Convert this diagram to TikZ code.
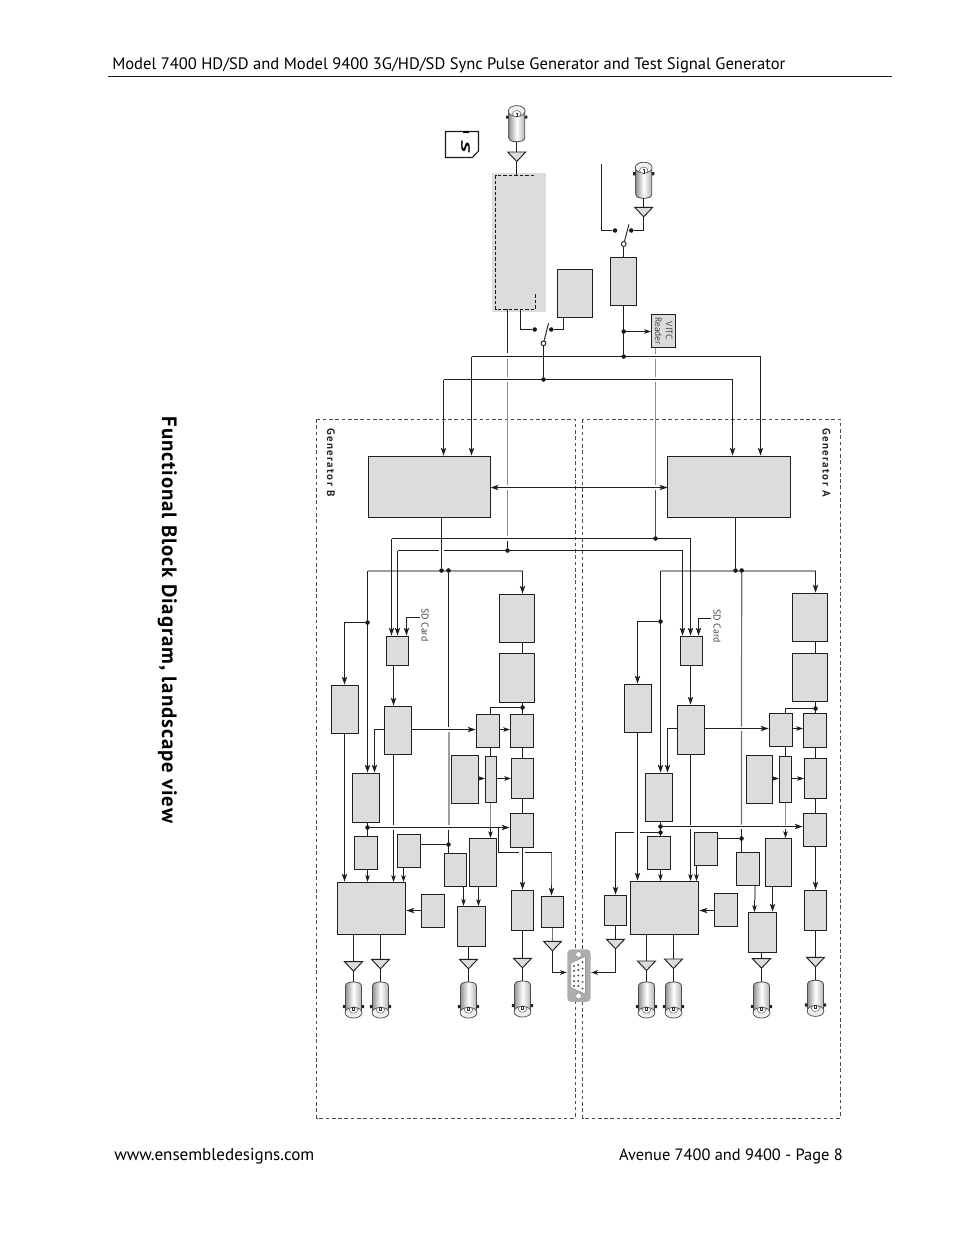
\documentclass[tikz,border=0pt]{standalone}
\usepackage{fontspec}
\setmainfont{PT Sans}
\usetikzlibrary{arrows.meta,calc}
\pgfdeclarelayer{fg}
\pgfsetlayers{main,fg}
\definecolor{blkfill}{HTML}{DCDCDC}
\definecolor{gwire}{HTML}{9E9E9E}
\definecolor{gwdark}{HTML}{8C8C8C}
\tikzset{
 wire/.style={draw=black!88,line width=.8pt},
 arr/.style={wire,-{Stealth[length=6pt,width=4pt,inset=1.5pt]},shorten >=.6pt},
 arrs/.style={wire,-{Stealth[length=5pt,width=3.4pt,inset=1.2pt]},shorten >=.4pt},
 dbl/.style={wire,{Stealth[length=6pt,width=4pt,inset=1.5pt]}-{Stealth[length=6pt,width=4pt,inset=1.5pt]}},
 gw/.style={draw=gwdark,line width=.9pt},
 gbus/.style={draw=gwire,line width=1.5pt},
 blk/.style={draw=black!88,fill=blkfill,line width=.8pt,inner sep=0pt,outer sep=0pt,anchor=north west},
 jdot/.style={circle,fill=black!90,inner sep=0pt,minimum size=3.4pt},
 odot/.style={circle,draw=black!88,fill=white,line width=.7pt,inner sep=0pt,minimum size=3.6pt},
 gbox/.style={draw=black!70,line width=.6pt,dash pattern=on 2.7pt off 2pt},
 small/.style={text=black!72,font=\fontsize{7.4}{8}\selectfont,inner sep=0pt,rotate=-90},
 genlab/.style={text=black!85,font=\fontsize{8.2}{9}\selectfont\bfseries\addfontfeature{LetterSpace=13},inner sep=0pt,rotate=-90,anchor=base west},
}
\newcommand{\blk}[5]{%
 \pgfmathsetmacro\blkw{(#4-#2)*0.75}\pgfmathsetmacro\blkh{(#5-#3)*0.75}%
 \node[blk,minimum width=\blkw pt,minimum height=\blkh pt] (#1) at (#2,#3) {};}
\newcommand{\jd}[3]{\begin{pgfonlayer}{fg}\node[jdot] (#1) at (#2,#3) {};\end{pgfonlayer}}
\newcommand{\amp}[3]{%
 \coordinate (#1-t) at (#2,#3);\coordinate (#1-b) at (#2,#3+9.5);
 \draw[draw=black!88,line width=.7pt,fill=blkfill] ($(#1-t)+(-9,0)$) -- ($(#1-t)+(9,0)$) -- (#1-b) -- cycle;}
\newcommand{\bncbody}{%
 \draw[draw=black!70,line width=.6pt,left color=black!42,right color=black!30,middle color=white]
   (-8,4) .. controls (-8,1) and (-4,0) .. (0,0) .. controls (4,0) and (8,1) .. (8,4) -- (8,30) -- (-8,30) -- cycle;
 \fill[black!85] (-10.6,23) rectangle (-8,26.2) (8,23) rectangle (10.6,26.2);
 \draw[draw=black!70,line width=.55pt,fill=black!6] (0,30.7) ellipse [x radius=8.4,y radius=5.4];
 \draw[draw=black!60,line width=.4pt,fill=white] (0,28) ellipse [x radius=4.2,y radius=3.2];
 \fill[black!80] (-1.1,24.5) rectangle (1.1,29);
 \fill[white] (-.4,25.5) rectangle (.4,28);}
\newcommand{\bncd}[3]{\coordinate (#1) at (#2,#3);\begin{scope}[shift={(#2,#3)}]\bncbody\end{scope}}
\newcommand{\bncu}[3]{\coordinate (#1) at (#2,#3);\begin{scope}[shift={(#2,#3)},yscale=-1]\bncbody\end{scope}}
\begin{document}
\begin{tikzpicture}[x=.75pt,y=-.75pt]
\useasboundingbox (0,0) rectangle (954,1235);
% page furniture
\node[anchor=base west,inner sep=0pt,font=\fontsize{12.42}{14}\selectfont] (title) at (112,69.5) {Model 7400 HD/SD and Model 9400 3G/HD/SD Sync Pulse Generator and Test Signal Generator};
\coordinate (ruleL) at (108,76.5);\coordinate (ruleR) at (892,76.5);
\draw[line width=.75pt,black!90] (ruleL) -- (ruleR);
\node[anchor=base west,inner sep=0pt,font=\fontsize{12.8}{14}\selectfont] (foot1) at (114,1160.5) {www.ensembledesigns.com};
\node[anchor=base east,inner sep=0pt,font=\fontsize{12.3}{14}\selectfont] (foot2) at (843,1160.5) {Avenue 7400 and 9400 - Page 8};
\node[anchor=base west,rotate=-90,inner sep=0pt,font=\fontsize{15.6}{16}\selectfont\bfseries\addfontfeature{LetterSpace=4.5}] (head) at (162,416.5) {Functional Block Diagram, landscape view};
% generator boxes
\draw[gbox] (316.5,419) rectangle (575,1118);
\draw[gbox] (582.5,419) rectangle (840,1118);
\node[genlab] (genB) at (327,428) {Generator B};
\node[genlab] (genA) at (822.5,428) {Generator A};
% SD card icon
\draw[draw=black!90,line width=.8pt,fill=white] (445.5,131.5) -- (478.5,131.5) -- (478.5,151) -- (472.3,157.5) -- (445.5,157.5) -- cycle;
\fill[black] (463.3,131.3) rectangle (468.7,133);
\node[rotate=-90,inner sep=0pt,font=\fontsize{9}{10}\selectfont\bfseries\itshape] (sdlogo) at (465.5,146.5) {\scalebox{1.9}[1]{S}};
% input section
\node[fill=blkfill,inner sep=0pt,outer sep=0pt,minimum width=40.5pt,minimum height=104.25pt,anchor=north west] (Tp) at (492,173) {};
\draw[black!90,line width=.7pt,dash pattern=on 2.6pt off 1.5pt] (534,175.5) -- (495.5,175.5) -- (495.5,309.5) -- (535.5,309.5) -- (535.5,294);
\bncu{Tbnc}{516.7}{141.7}
\amp{Tamp}{516.7}{152}
\coordinate (TpIn) at (516.7,175.3);
\draw[wire] (Tbnc) -- (Tamp-t);
\draw[wire] (Tamp-b) -- (TpIn);
\blk{Sy}{557.5}{269.5}{592.5}{317.5}
\blk{Vi}{610.5}{257.5}{636.5}{305.5}
\blk{Vt}{651.5}{314.5}{675.5}{347.5}
\node[small,align=center,font=\fontsize{7}{8}\selectfont] (VtT) at (663.7,331) {VITC\\Reader};
\bncu{Rbnc}{643.7}{198.3}
\amp{Ramp}{643.7}{207.3}
\draw[wire] (Rbnc) -- (Ramp-t);
% switch 2
\node[odot] (Sw2) at (623.7,244) {};
\jd{Sw2a}{615}{230.5}\jd{Sw2b}{631.3}{230.5}
\coordinate (Sw2e) at (629,224.3);
\coordinate (Feed) at (601.5,164);
\draw[wire] (Feed) |- (Sw2a);
\draw[wire] (Sw2b) -| (Ramp-b);
\draw[wire,line width=.7pt] (Sw2) -- (Sw2e);
\draw[wire] (Sw2) -- (Vi.north -| Sw2);
% switch 1
\jd{Ja}{543.5}{379.5}\jd{Jb}{623.7}{356.5}\jd{Jc}{623.7}{331.5}
\node[odot] (Sw1) at (543.5,343.3) {};
\jd{Sw1a}{534.7}{329.5}\jd{Sw1b}{551.3}{329.5}
\coordinate (Sw1e) at (548.5,323.3);
\draw[wire] (Ja) -- (Sw1);
\draw[wire,line width=.7pt] (Sw1) -- (Sw1e);
\coordinate (DashOut) at (520.5,309.3);
\draw[wire] (DashOut) |- (Sw1a);
\draw[wire] (Sw1b) -| (Sy.south -| 563.5,0);
\draw[wire] (Vi.south -| Jb) -- (Jb);
\draw[arrs] (Jc) -- (Vt.west |- Jc);
% top busses
\coordinate (B1L) at (471.5,356.5);\coordinate (B1R) at (760.5,356.5);
\coordinate (B2L) at (443.5,379.5);\coordinate (B2R) at (732.5,379.5);
\blk{Bg}{368.5}{456.5}{490.5}{517.5}
\blk{Ag}{667.5}{456.5}{790.5}{517.5}
\draw[wire] (B1L) -- (B1R);
\draw[wire] (B2L) -- (B2R);
\draw[arr] (B1L) -- (Bg.north -| B1L);
\draw[arr] (B2L) -- (Bg.north -| B2L);
\draw[arr] (B1R) -- (Ag.north -| B1R);
\draw[arr] (B2R) -- (Ag.north -| B2R);
\draw[dbl] (Bg.east |- 0,487.5) -- (Ag.west |- 0,487.5);
% grey feed lines
\jd{Jt1}{655.5}{538.5}\jd{Jt2}{507.5}{550.5}
\draw[wire] (Tp.south -| Jt2) ++(0,-2.7) -- (507.5,353);
\draw[gw] (507.5,358.5) -- (507.5,376.5) (507.5,382) -- (507.5,485) (507.5,489.5) -- (507.5,536);
\draw[wire] (507.5,540.5) -- (Jt2);
\draw[gw] (Vt.south -| Jt1) -- (655.5,353.5) (655.5,358.5) -- (655.5,376.5) (655.5,382) -- (655.5,484.5);
\draw[wire,draw=black!70] (655.5,489.5) -- (Jt1);
% crossing wires
\coordinate (W1R) at (690.5,538.5);\coordinate (W1L) at (391.5,538.5);
\coordinate (W2R) at (682.5,550.5);\coordinate (W2L) at (397.5,550.5);
\draw[wire] (W1L) -- (W1R);
\draw[wire] (W2L) -- (438.8,550.5) (444,550.5) -- (W2R);
% ---------------- generator A
\jd{Aj1}{735.5}{570.5}\jd{Aj2}{741.7}{570.5}
\coordinate (Abl) at (660.5,570.5);\coordinate (Abr) at (815.5,570.5);
\blk{AR1}{792.5}{593.5}{827.5}{641.5}
\blk{AR2}{792.5}{653.5}{827.5}{701.5}
\blk{AM}{769.5}{713.5}{792.5}{746.5}
\blk{AN}{803.5}{713.5}{826.5}{747.5}
\blk{AL}{746.5}{755.5}{772.5}{803.5}
\blk{AT}{779.5}{756.5}{791.5}{802.5}
\blk{AU}{804.5}{758.5}{826.5}{798.5}
\blk{AV}{803.5}{813.5}{826.5}{846.5}
\blk{ASD}{680.5}{636.5}{702.5}{665.5}
\blk{AP}{677.5}{705.5}{704.5}{754.5}
\blk{AO}{624.5}{684.5}{651.5}{732.5}
\blk{AQ}{645.5}{773.5}{672.5}{821.5}
\blk{AX}{647.5}{836.5}{670.5}{869.5}
\blk{AY}{694.5}{832.5}{717.5}{865.5}
\blk{ABig}{630.5}{881.5}{698.5}{934.5}
\blk{AZ}{714.5}{893.5}{737.5}{926.5}
\blk{AW}{604.5}{895.5}{626.5}{925.5}
\blk{AS}{736.5}{852.5}{759.5}{885.5}
\blk{AAA}{765.5}{838.5}{791.5}{886.5}
\blk{ABB}{748.5}{912.5}{776.5}{952.5}
\blk{ACC}{804.5}{890.5}{826.5}{930.5}
\draw[gbus] (Abl) -- (Abr);
\draw[wire] (Ag.south -| Aj1) -- (Aj1);
\draw[arr] (Abr) -- (AR1.north -| Abr);
\draw[wire] (AR1.south -| Abr) -- (AR2.north -| Abr);
\jd{Aj3}{815.5}{708.5}
\draw[wire] (AR2.south -| Abr) -- (AN.north -| Abr);
\draw[wire] (Aj3) -- (785.5,708.5) -- (AM.north -| 785.5,0);
\draw[arrs] (AM.east |- 0,728.5) -- (AN.west |- 0,728.5);
\draw[wire] (AN.south -| Abr) -- (AU.north -| Abr);
\draw[wire] (AU.south -| Abr) -- (AV.north -| Abr);
\draw[arrs] (AL.east |- 0,778.5) -- (AT.west |- 0,778.5);
\draw[arrs] (AT.east |- 0,778.5) -- (AU.west |- 0,778.5);
\draw[wire] (AM.south -| 785.5,0) -- (AT.north -| 785.5,0);
\draw[gw] (AT.south -| 785.5,0) -- (785.5,824.5);
\draw[arrs] (785.5,829) -- (AAA.north -| 785.5,0);
\draw[arr] (W1R) -- (ASD.north -| W1R);
\draw[arr] (W2R) -- (ASD.north -| W2R);
\coordinate (ASDt) at (710.7,618.5);
\draw[arr] (ASDt) -- (698.5,618.5) -- (ASD.north -| 698.5,0);
\node[small,anchor=base west] (ASDl) at (713.5,609.3) {SD Card};
\draw[arr] (ASD.south -| 690.5,0) -- (AP.north -| 690.5,0);
\draw[arr] (AP.east |- 0,728.5) -- (AM.west |- 0,728.5);
\draw[arr] (AP.west |- 0,728.5) -- (667.5,728.5) -- (AQ.north -| 667.5,0);
\jd{Aj4}{660.5}{621.5}
\draw[arr] (Abl) -- (AQ.north -| Abl);
\draw[arr] (Aj4) -- (637.5,621.5) -- (AO.north -| 637.5,0);
\draw[arr] (AO.south -| 637.5,0) -- (ABig.north -| 637.5,0);
\draw[wire] (AP.south -| 690.5,0) -- (690.5,824.7);
\draw[arrs] (690.5,829) -- (ABig.north -| 690.5,0);
\jd{Aj5}{660.5}{826.5}\jd{Aj6}{660.5}{832.5}\jd{Aj7}{741.5}{838.5}
\draw[wire] (AQ.south -| Aj5) -- (AX.north -| Aj5);
\draw[arr] (Aj5) -- (AV.west |- Aj5);
\draw[arrs] (AX.south -| Aj5) -- (ABig.north -| Aj5);
\draw[wire] (Aj6) -- (640.3,832.5);
\draw[arr] (634.3,832.5) -- (615.5,832.5) -- (AW.north -| 615.5,0);
\draw[arrs] (AY.south -| 696.5,0) -- (ABig.north -| 696.5,0);
\draw[wire] (AY.east |- Aj7) -- (Aj7);
\draw[draw=gwdark!80!black,line width=.9pt] (Aj2) -- (741.5,726.5) (741.5,731) -- (741.5,824.7);
\draw[wire] (741.5,828.5) -- (AS.north -| Aj7);
\draw[arr] (AZ.west |- 0,910.5) -- (ABig.east |- 0,910.5);
\draw[gbus] (AS.south -| 754.5,0) -- (754.5,900);
\draw[arrs] (754.5,900) -- (ABB.north -| 754.5,0);
\draw[arr] (AAA.south -| 772.5,0) -- (ABB.north -| 772.5,0);
\draw[arr] (AV.south -| Abr) -- (ACC.north -| Abr);
\amp{Aa1}{646.5}{961}\amp{Aa2}{673.5}{959}\amp{Aa3}{761.5}{958.7}\amp{Aa4}{815.5}{957.3}\amp{Aa5}{615.5}{939.3}
\draw[wire] (ABig.south -| Aa1-t) -- (Aa1-t);
\draw[wire] (ABig.south -| Aa2-t) -- (Aa2-t);
\draw[wire] (ABB.south -| Aa3-t) -- (Aa3-t);
\draw[wire] (ACC.south -| Aa4-t) -- (Aa4-t);
\draw[wire] (AW.south -| Aa5-t) -- (Aa5-t);
\bncd{Ab1}{646.5}{982}\bncd{Ab2}{673.5}{982}\bncd{Ab3}{761.5}{982}\bncd{Ab4}{815.5}{980.3}
\draw[wire] (Aa1-b) -- (Ab1);\draw[wire] (Aa2-b) -- (Ab2);\draw[wire] (Aa3-b) -- (Ab3);\draw[wire] (Aa4-b) -- (Ab4);
% ---------------- generator B
\jd{Bj1}{441.5}{570.5}\jd{Bj2}{448.5}{570.5}
\coordinate (Bbl) at (367.5,570.5);\coordinate (Bbr) at (522.5,570.5);
\blk{BR1}{499.5}{594.5}{534.5}{642.5}
\blk{BR2}{499.5}{653.5}{534.5}{702.5}
\blk{BM}{476.5}{714.5}{499.5}{747.5}
\blk{BN}{510.5}{714.5}{533.5}{747.5}
\blk{BL}{451.5}{755.5}{478.5}{803.5}
\blk{BT}{485.5}{756.5}{496.5}{802.5}
\blk{BU}{511.5}{758.5}{533.5}{798.5}
\blk{BV}{510.5}{813.5}{533.5}{847.5}
\blk{BSD}{386.5}{636.5}{408.5}{665.5}
\blk{BP}{384.5}{706.5}{411.5}{754.5}
\blk{BO}{331.5}{685.5}{358.5}{733.5}
\blk{BQ}{352.5}{773.5}{379.5}{822.5}
\blk{BX}{354.5}{836.5}{377.5}{869.5}
\blk{BY}{397.5}{834.5}{420.5}{867.5}
\blk{BBig}{337.5}{882.5}{405.5}{934.5}
\blk{BZ}{421.5}{894.5}{444.5}{927.5}
\blk{BW}{541.5}{896.5}{563.5}{927.5}
\blk{BS}{444.5}{853.5}{466.5}{886.5}
\blk{BAA}{469.5}{838.5}{496.5}{886.5}
\blk{BBB}{457.5}{906.5}{485.5}{946.5}
\blk{BCC}{511.5}{890.5}{533.5}{930.5}
\draw[gbus] (Bbl) -- (Bbr);
\draw[wire] (Bg.south -| Bj1) -- (Bj1);
\draw[arr] (Bbr) -- (BR1.north -| Bbr);
\draw[wire] (BR1.south -| Bbr) -- (BR2.north -| Bbr);
\jd{Bj3}{522.5}{707.5}
\draw[wire] (BR2.south -| Bbr) -- (BN.north -| Bbr);
\draw[wire] (Bj3) -- (490.5,707.5) -- (BM.north -| 490.5,0);
\draw[arrs] (BM.east |- 0,729.5) -- (BN.west |- 0,729.5);
\draw[wire] (BN.south -| Bbr) -- (BU.north -| Bbr);
\draw[wire] (BU.south -| Bbr) -- (BV.north -| Bbr);
\draw[arrs] (BL.east |- 0,778.5) -- (BT.west |- 0,778.5);
\draw[arrs] (BT.east |- 0,778.5) -- (BU.west |- 0,778.5);
\draw[wire] (BM.south -| 490.5,0) -- (BT.north -| 490.5,0);
\draw[gw] (BT.south -| 490.5,0) -- (490.5,827);
\draw[arrs] (490.5,827) -- (BAA.north -| 490.5,0);
\draw[arr] (W1L) -- (BSD.north -| W1L);
\draw[arr] (W2L) -- (BSD.north -| W2L);
\coordinate (BSDt) at (419.5,617.5);
\draw[arr] (BSDt) -- (406.5,617.5) -- (BSD.north -| 406.5,0);
\node[small,anchor=base west] (BSDl) at (421.5,608) {SD Card};
\draw[arr] (BSD.south -| 393.5,0) -- (BP.north -| 393.5,0);
\draw[arr] (BP.east |- 0,729.5) -- (BM.west |- 0,729.5);
\draw[arr] (BP.west |- 0,729.5) -- (374.5,729.5) -- (BQ.north -| 374.5,0);
\jd{Bj4}{367.5}{622.5}
\draw[arr] (Bbl) -- (BQ.north -| Bbl);
\draw[arr] (Bj4) -- (344.5,622.5) -- (BO.north -| 344.5,0);
\draw[arr] (BO.south -| 344.5,0) -- (BBig.north -| 344.5,0);
\draw[wire] (BP.south -| 393.5,0) -- (393.5,825);
\draw[arrs] (393.5,829.5) -- (BBig.north -| 393.5,0);
\jd{Bj5}{367.5}{827.5}\jd{Bj7}{448.5}{844.5}
\draw[wire] (BQ.south -| Bj5) -- (BX.north -| Bj5);
\draw[arr] (Bj5) -- (BV.west |- Bj5);
\draw[arrs] (BX.south -| Bj5) -- (BBig.north -| Bj5);
\draw[arrs] (BY.south -| 403.5,0) -- (BBig.north -| 403.5,0);
\draw[wire] (BY.east |- Bj7) -- (Bj7);
\draw[wire] (Bj2) -- (448.5,726.7);
\draw[gbus] (448.5,731.5) -- (448.5,825);
\draw[wire] (448.5,829.5) -- (BS.north -| Bj7);
\draw[arr] (BZ.west |- 0,910.5) -- (BBig.east |- 0,910.5);
\draw[arrs] (BS.south -| 463.5,0) -- (BBB.north -| 463.5,0);
\draw[arrs] (BAA.south -| 478.5,0) -- (BBB.north -| 478.5,0);
\draw[arr] (BV.south -| Bbr) -- (BCC.north -| Bbr);
% branch to the connector in B
\coordinate (BrS) at (498.5,827.5);
\draw[wire] (BrS) |- (519.3,852.5) (525.3,852.5) -- (551.5,852.5);
\draw[draw=black!55,line width=.9pt] (551.5,852.5) -- (551.5,885);
\draw[arr] (551.5,885) -- (BW.north -| 551.5,0);
\amp{Ba1}{353.5}{961.7}\amp{Ba2}{380.5}{959.3}\amp{Ba3}{468.5}{959.3}\amp{Ba4}{522.5}{958.3}\amp{Ba5}{552.5}{941.3}
\draw[wire] (BBig.south -| Ba1-t) -- (Ba1-t);
\draw[wire] (BBig.south -| Ba2-t) -- (Ba2-t);
\draw[wire] (BBB.south -| Ba3-t) -- (Ba3-t);
\draw[wire] (BCC.south -| Ba4-t) -- (Ba4-t);
\draw[wire,draw=black!55] (BW.south -| Ba5-t) -- (Ba5-t);
\bncd{Bb1}{353.5}{982}\bncd{Bb2}{380.5}{982}\bncd{Bb3}{468.5}{982}\bncd{Bb4}{522.5}{981}
\draw[wire] (Ba1-b) -- (Bb1);\draw[wire] (Ba2-b) -- (Bb2);\draw[wire] (Ba3-b) -- (Bb3);\draw[wire] (Ba4-b) -- (Bb4);
% connector
\node[fill=gwire!85!white,rounded corners=3pt,inner sep=0pt,outer sep=0pt,minimum width=17.5pt,minimum height=39.5pt,anchor=north west] (Con) at (567.3,949.3) {};
\fill[white,draw=black!50,line width=.3pt] (578.6,954.5) circle (2.9) (578.6,996) circle (2.9);
\fill[white,draw=black!50,line width=.3pt] (571,963) -- (585.3,956.5) -- (585.3,994) -- (571,987.5) -- cycle;
\foreach \px/\py in {574/966,574/971,574/976,574/981,574/986,578.3/965,578.3/970,578.3/975.5,578.3/981,578.3/986,582.6/962,582.6/968.5,582.6/975.5,582.6/982,582.6/988.5}
  \fill[black!70] (\px,\py) circle (1.1);
\draw[wire] (Ba5-b) |- (560,972.5);
\draw[arrs] (560,972.5) -- (Con.west |- 0,972.5);
\draw[wire] (Aa5-b) |- (603,972.5);
\draw[arrs] (603,972.5) -- (Con.east |- 0,972.5);
\end{tikzpicture}
\end{document}
